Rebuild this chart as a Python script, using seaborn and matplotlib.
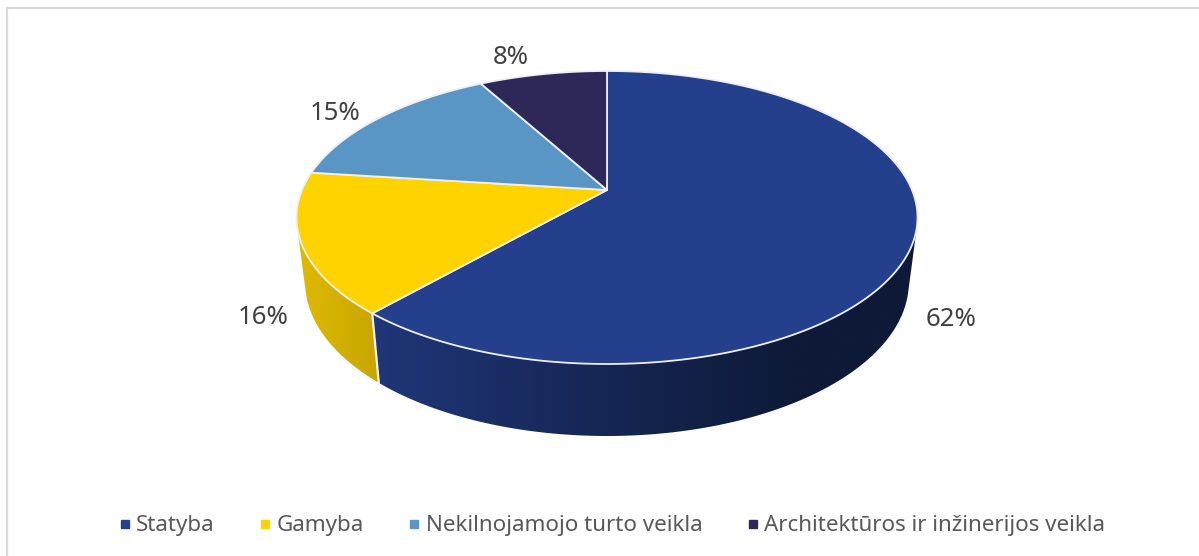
import numpy as np
import matplotlib
matplotlib.use("Agg")
import matplotlib.pyplot as plt
from matplotlib.colors import LinearSegmentedColormap
from matplotlib.patches import Polygon
from matplotlib.lines import Line2D
import seaborn as sns

categories = ["Statyba", "Gamyba", "Nekilnojamojo turto veikla", "Architektūros ir inžinerijos veikla"]
values = [61.5, 15.5, 15.0, 8.0]
percent_labels = ["62%", "16%", "15%", "8%"]
colors = ["#243F8C", "#FFD300", "#5A96C5", "#2E2859"]
side_shades = [("#203678", "#0E1A38"), ("#E0BA00", "#C8A600")]
label_pos = [(951, 320), (263, 317), (335, 114), (511, 57)]

sns.set_theme(style="white")
plt.rcParams["font.family"] = ["Noto Sans", "DejaVu Sans"]
palette = sns.color_palette(colors)

fig = plt.figure(figsize=(11.99, 5.56), dpi=100)
ax = fig.add_axes([0, 0, 1, 1])

# perspective projection of the pie disc onto pixel space
CX, D, A, B, C = 607.0, 305.0, -105.67, 190.0, 0.1877


def top_rim(theta):
    u, v = np.sin(theta), np.cos(theta)
    w = 1 + C * v
    return CX + D * u / w, (A * v + B) / w


def bottom_rim(theta):
    x, y = top_rim(theta)
    return CX + 0.972 * (x - CX), 1.05 * y + 53.8


def convex_hull(points):
    pts = sorted(set(map(tuple, points)))

    def half(seq):
        out = []
        for p in seq:
            while len(out) > 1 and ((out[-1][0] - out[-2][0]) * (p[1] - out[-2][1])
                                    - (out[-1][1] - out[-2][1]) * (p[0] - out[-2][0])) <= 0:
                out.pop()
            out.append(p)
        return out[:-1]

    return half(pts) + half(pts[::-1])


fractions = np.array(values) / sum(values)
edges = np.concatenate([[0], np.cumsum(fractions)]) * 2 * np.pi

# side wall of the two front slices, shaded left to right and clipped to their outline
gradient_spans = [(370, 790), (297, 377)]
for i in (0, 1):
    th = np.linspace(edges[i], edges[i + 1], 400)
    tx, ty = top_rim(th)
    bx, by = bottom_rim(th)
    outline = convex_hull(np.r_[np.c_[tx, ty], np.c_[bx, by]])
    band = Polygon(outline, closed=True, facecolor="none", edgecolor="none", transform=ax.transData)
    ax.add_patch(band)
    cmap = LinearSegmentedColormap.from_list("side", side_shades[i])
    x0, x1 = gradient_spans[i]
    xmin, xmax = min(tx.min(), bx.min()), max(tx.max(), bx.max())
    ramp = np.clip((np.linspace(xmin, xmax, 700) - x0) / (x1 - x0), 0, 1)[None, :]
    im = ax.imshow(ramp, cmap=cmap, vmin=0, vmax=1, aspect="auto", zorder=2,
                   extent=(xmin, xmax, by.max() + 2, min(ty.min(), by.min()) - 2),
                   interpolation="bilinear")
    im.set_clip_path(band)

ax.set_xlim(0, 1199)
ax.set_ylim(556, 0)
ax.axis("off")

# divider between the two visible side faces
xa, ya = top_rim(edges[1])
xb, yb = bottom_rim(edges[1])
ax.plot([xa, xb], [ya, yb], color="#F2F2F2", lw=1.6, zorder=3, solid_capstyle="round")

# top surface of each slice
for i, col in enumerate(palette):
    th = np.linspace(edges[i], edges[i + 1], 240)
    rx, ry = top_rim(th)
    pts = [(CX, B)] + list(zip(rx, ry))
    ax.add_patch(Polygon(pts, closed=True, facecolor=col, edgecolor="#EEEFF4",
                         linewidth=1.3, joinstyle="round", zorder=4))

# percent labels
for txt, (lx, ly) in zip(percent_labels, label_pos):
    ax.text(lx, ly, txt, ha="center", va="center", fontsize=18.5, color="#404040", zorder=6)

# chart frame (top and left only reach the picture edges)
ax.plot([7, 7, 1199], [556, 8, 8], color="#D9D9D9", lw=1.6, zorder=1, solid_joinstyle="miter")

handles = [Line2D([], [], marker="s", linestyle="none", markersize=5.6, color=c) for c in palette]
ax.legend(handles, categories, ncol=4, frameon=False, loc="center",
          bbox_to_anchor=(611.5 / 1199, 1 - 526 / 556), fontsize=16.1, labelcolor="#595959",
          handletextpad=0.2, columnspacing=1.97, handlelength=0.6, borderpad=0)

fig.savefig("out.png", dpi=100)
